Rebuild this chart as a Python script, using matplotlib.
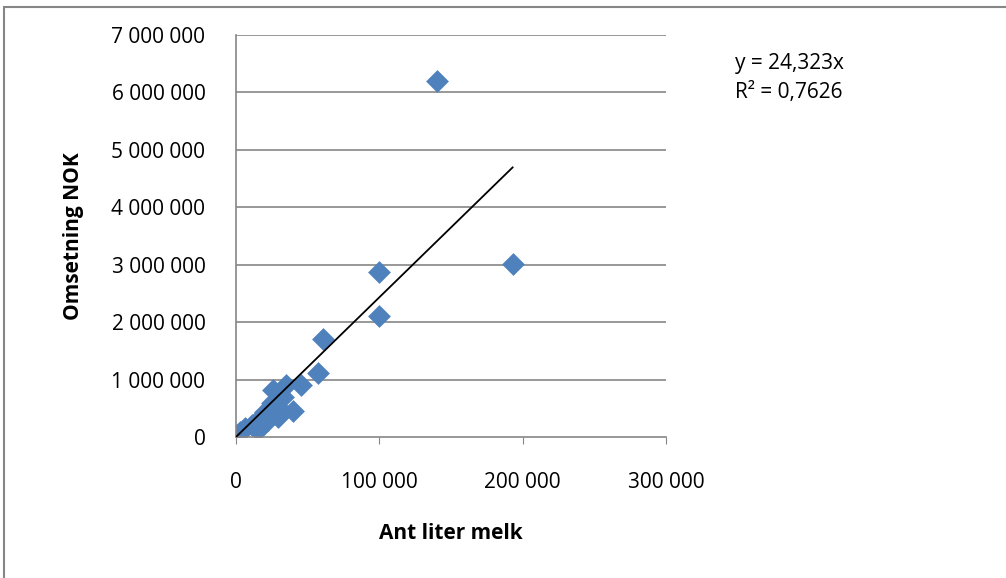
import matplotlib.pyplot as plt
from matplotlib.patches import Rectangle
from matplotlib.ticker import FuncFormatter

# Ant liter melk vs omsetning
liter = [140000, 193000, 100000, 100000, 61000, 57000, 45000, 35000, 26000, 33000,
         40000, 30000, 25000, 20000, 15000, 11000, 6000, 1000, 15000, 22000, 29000, 3000]
omsetning = [6200000, 3020000, 2880000, 2100000, 1700000, 1120000, 900000, 900000, 810000, 700000,
             450000, 500000, 600000, 430000, 300000, 200000, 150000, 30000, 120000, 300000, 350000, 80000]
slope = 24.323
r2 = 0.7626

plt.rcParams['font.family'] = ['Open Sans', 'DejaVu Sans']

fig = plt.figure(figsize=(10.06, 5.78), dpi=100)
ax = fig.add_axes([0.2346, 0.244, 0.4274, 0.6954])

for y in range(1000000, 8000000, 1000000):
    ax.axhline(y, color='#868686', lw=1.2, zorder=0)

ax.scatter(liter, omsetning, marker='D', s=135, color='#4F81BD', zorder=2, linewidths=0)
xmax = max(liter)
ax.plot([0, xmax], [0, slope * xmax], color='black', lw=1.3, zorder=3)

ax.set_xlim(0, 300000)
ax.set_ylim(0, 7000000)
ax.set_xticks([0, 100000, 200000, 300000])
ax.set_yticks(range(0, 8000000, 1000000))
fmt = FuncFormatter(lambda v, p: f"{int(v):,}".replace(",", " "))
ax.xaxis.set_major_formatter(fmt)
ax.yaxis.set_major_formatter(fmt)
ax.tick_params(axis='x', length=5, color='#868686', labelsize=15, pad=20)
ax.tick_params(axis='y', length=0, labelsize=15, pad=22)
for s in ['top', 'right']:
    ax.spines[s].set_visible(False)
for s in ['left', 'bottom']:
    ax.spines[s].set_color('#868686')
    ax.spines[s].set_linewidth(1.2)

ax.set_xlabel('Ant liter melk', fontsize=15, fontweight='bold', labelpad=22)
ax.set_ylabel('Omsetning NOK', fontsize=15, fontweight='bold', labelpad=20)

fig.text(0.731, 0.865, f"y = {str(slope).replace('.', ',')}x\nR² = {str(r2).replace('.', ',')}",
         fontsize=15, va='center', linespacing=1.45)

fig.patches.append(Rectangle((0.004, -0.05), 1.2, 1.038, transform=fig.transFigure,
                             fill=False, edgecolor='#868686', lw=1.5))

fig.savefig('out.png')
